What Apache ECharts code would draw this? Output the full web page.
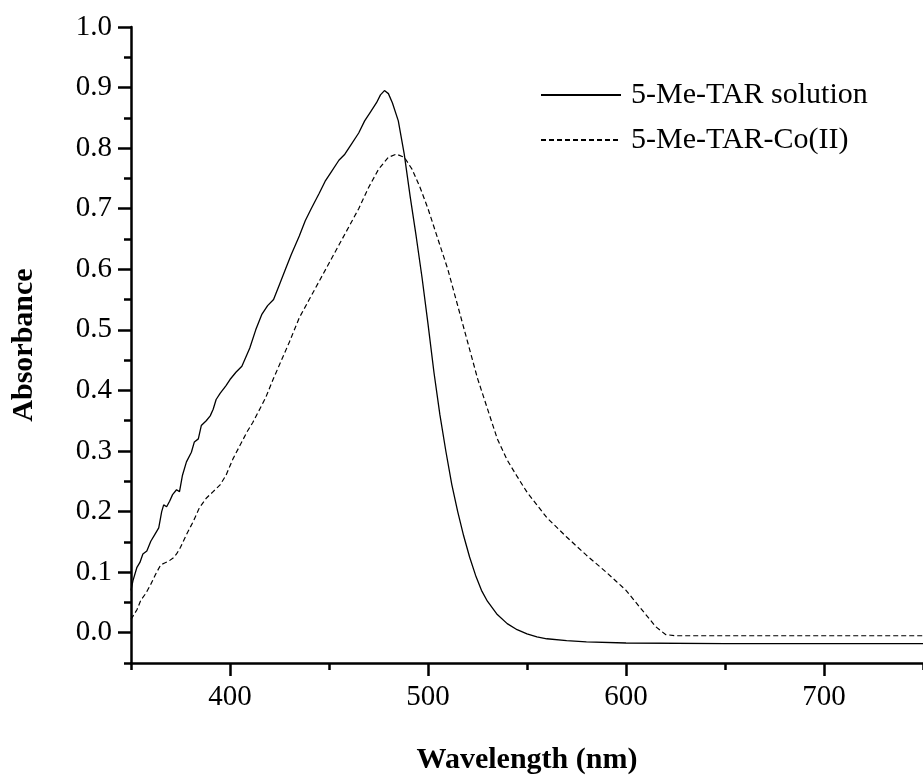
<!DOCTYPE html>
<html>
<head>
<meta charset="utf-8">
<title>Absorbance</title>
<script src="https://cdn.jsdelivr.net/npm/echarts@6/dist/echarts.min.js"></script>
<style>
  html, body { margin: 0; padding: 0; background: #fff; }
  #chart { width: 923px; height: 780px; }
</style>
</head>
<body>
<div id="chart"></div>
<script>
// 5-Me-TAR 溶液
const solutionNm = [350, 351, 353, 354.5, 356, 358, 360, 362, 364, 365.5, 366.5, 368, 369.5, 371, 373, 374.5, 376, 378, 380.5, 382, 384, 385.5, 388, 390, 391.5, 393, 395, 398, 400, 403, 406, 410, 413, 416, 419, 422, 425, 428, 431, 435, 438, 441, 445, 448, 451, 455, 458, 461, 465, 468, 471, 474, 476, 478, 480, 482, 485, 488, 491, 494, 497, 500, 503, 506, 509, 512, 515, 518, 521, 524, 527, 530, 535, 540, 545, 550, 555, 560, 570, 580, 600, 650, 700, 750];
const solutionAbs = [0.07, 0.086, 0.108, 0.116, 0.13, 0.135, 0.151, 0.162, 0.173, 0.2, 0.211, 0.208, 0.217, 0.228, 0.236, 0.233, 0.26, 0.282, 0.298, 0.315, 0.32, 0.342, 0.35, 0.358, 0.369, 0.385, 0.395, 0.408, 0.418, 0.43, 0.44, 0.47, 0.50, 0.525, 0.54, 0.55, 0.575, 0.60, 0.625, 0.655, 0.68, 0.70, 0.725, 0.745, 0.76, 0.78, 0.79, 0.805, 0.825, 0.845, 0.86, 0.875, 0.888, 0.895, 0.89, 0.875, 0.845, 0.79, 0.72, 0.655, 0.586, 0.51, 0.43, 0.36, 0.30, 0.245, 0.20, 0.16, 0.125, 0.095, 0.07, 0.052, 0.03, 0.015, 0.005, -0.002, -0.007, -0.01, -0.013, -0.015, -0.017, -0.018, -0.018, -0.018];

// 5-Me-TAR-Co(II) 络合物
const complexNm = [350, 353, 355, 357.5, 360, 362.5, 365, 367, 369, 371.5, 373, 375, 378, 381.5, 384.5, 388, 391.5, 395, 398, 401.5, 405, 408.5, 411.5, 415, 418, 422, 426, 430, 435, 440, 445, 450, 455, 460, 465, 470, 475, 480, 484, 488, 492, 496, 500, 505, 510, 515, 520, 525, 530, 535, 540, 545, 550, 560, 570, 580, 590, 595, 600, 605, 610, 615, 620, 625, 650, 700, 750];
const complexAbs = [0.022, 0.038, 0.054, 0.065, 0.08, 0.097, 0.112, 0.115, 0.118, 0.124, 0.13, 0.141, 0.162, 0.184, 0.206, 0.222, 0.233, 0.244, 0.26, 0.287, 0.309, 0.331, 0.347, 0.369, 0.388, 0.42, 0.45, 0.48, 0.52, 0.55, 0.58, 0.61, 0.64, 0.67, 0.70, 0.735, 0.765, 0.785, 0.79, 0.785, 0.765, 0.735, 0.70, 0.65, 0.60, 0.54, 0.48, 0.42, 0.37, 0.32, 0.285, 0.258, 0.232, 0.19, 0.158, 0.128, 0.10, 0.085, 0.07, 0.05, 0.03, 0.01, -0.003, -0.005, -0.005, -0.005, -0.005];

// 坐标轴刻度
const xMajorTicks = [400, 500, 600, 700];
const yMajorTicks = [0, 0.1, 0.2, 0.3, 0.4, 0.5, 0.6, 0.7, 0.8, 0.9, 1.0];

const serif = '"Liberation Serif", "Times New Roman", serif';

const chartDom = document.getElementById('chart');
const chartInstance = echarts.init(chartDom);

const option = {
  animation: false,
  backgroundColor: '#fff',
  textStyle: { fontFamily: serif, color: '#000' },
  grid: {
    left: 131,
    right: -4,
    top: 27,
    bottom: 110
  },
  legend: {
    left: 540,
    top: 80,
    padding: 0,
    orient: 'vertical',
    itemWidth: 80,
    itemHeight: 14,
    itemGap: 15,
    itemStyle: { opacity: 0 }, // 图例只画线，不要圆点
    textStyle: {
      fontFamily: serif,
      fontSize: 30,
      color: '#000',
      padding: [0, 0, 0, 5]
    },
    data: ['5-Me-TAR solution', '5-Me-TAR-Co(II)']
  },
  xAxis: [
    {
      type: 'value',
      min: 350,
      max: 750,
      interval: 50, // 次刻度
      name: 'Wavelength (nm)',
      nameLocation: 'middle',
      nameGap: 82,
      nameTextStyle: { fontFamily: serif, fontSize: 30, fontWeight: 'bold', color: '#000' },
      axisLine: { show: true, onZero: false, lineStyle: { color: '#000', width: 2.5 } },
      axisTick: { show: true, length: 7, lineStyle: { color: '#000', width: 2.5 } },
      axisLabel: {
        customValues: xMajorTicks,
        margin: 20,
        fontFamily: serif,
        fontSize: 29,
        color: '#000'
      },
      splitLine: { show: false }
    },
    {
      // 主刻度（长一些）
      type: 'value',
      min: 350,
      max: 750,
      interval: 50,
      position: 'bottom',
      axisLine: { show: false, onZero: false },
      axisTick: { show: true, customValues: xMajorTicks, length: 13, lineStyle: { color: '#000', width: 2.5 } },
      axisLabel: { show: false },
      splitLine: { show: false }
    }
  ],
  yAxis: [
    {
      type: 'value',
      min: -0.05,
      max: 1.0,
      interval: 0.05,
      name: 'Absorbance',
      nameLocation: 'middle',
      nameGap: 92,
      nameRotate: 90,
      nameTextStyle: { fontFamily: serif, fontSize: 30, fontWeight: 'bold', color: '#000' },
      axisLine: { show: true, onZero: false, lineStyle: { color: '#000', width: 2.5 } },
      axisTick: { show: true, length: 7, lineStyle: { color: '#000', width: 2.5 } },
      axisLabel: {
        customValues: yMajorTicks,
        margin: 19,
        fontFamily: serif,
        fontSize: 29,
        color: '#000',
        formatter: v => v.toFixed(1)
      },
      splitLine: { show: false }
    },
    {
      type: 'value',
      min: -0.05,
      max: 1.0,
      interval: 0.05,
      position: 'left',
      axisLine: { show: false, onZero: false },
      axisTick: { show: true, customValues: yMajorTicks, length: 13, lineStyle: { color: '#000', width: 2.5 } },
      axisLabel: { show: false },
      splitLine: { show: false }
    }
  ],
  series: [
    {
      name: '5-Me-TAR solution',
      type: 'line',
      symbol: 'none',
      xAxisIndex: 0,
      yAxisIndex: 0,
      data: solutionNm.map((x, i) => [x, solutionAbs[i]]),
      lineStyle: { color: '#000', width: 1.3, type: 'solid' },
      itemStyle: { color: '#000' }
    },
    {
      name: '5-Me-TAR-Co(II)',
      type: 'line',
      symbol: 'none',
      xAxisIndex: 0,
      yAxisIndex: 0,
      data: complexNm.map((x, i) => [x, complexAbs[i]]),
      lineStyle: { color: '#000', width: 1.2, type: [5, 3] },
      itemStyle: { color: '#000' }
    }
  ]
};

chartInstance.setOption(option);

window.addEventListener('resize', () => {
  chartInstance.resize();
});
</script>
</body>
</html>
